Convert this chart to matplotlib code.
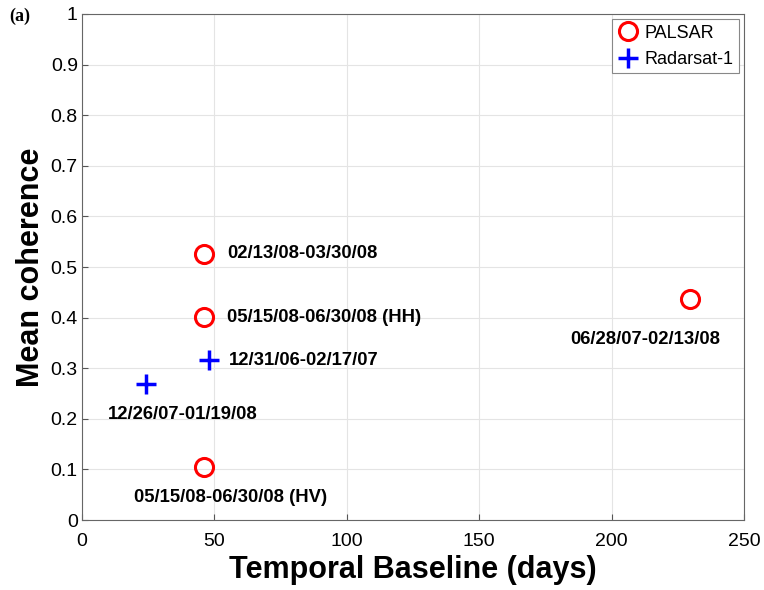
import matplotlib
matplotlib.use("Agg")
import matplotlib.pyplot as plt

plt.rcParams['font.family'] = ['Liberation Sans', 'DejaVu Sans']

# PALSAR pairs
palsar_days = [46, 46, 46, 229.5]
palsar_coh = [0.526, 0.401, 0.105, 0.437]
palsar_labels = ["02/13/08-03/30/08", "05/15/08-06/30/08 (HH)",
                 "05/15/08-06/30/08 (HV)", "06/28/07-02/13/08"]

# Radarsat-1 pairs
rsat_days = [48, 24]
rsat_coh = [0.316, 0.269]
rsat_labels = ["12/31/06-02/17/07", "12/26/07-01/19/08"]

xticks = [0, 50, 100, 150, 200, 250]
yticks = [0, 0.1, 0.2, 0.3, 0.4, 0.5, 0.6, 0.7, 0.8, 0.9, 1]

fig = plt.figure(figsize=(7.64, 5.9), dpi=100)
ax = fig.add_axes([0.1073, 0.1186, 0.8665, 0.8577])

ax.plot(palsar_days, palsar_coh, 'o', mfc='none', mec='red', mew=2.2, ms=13,
        label='PALSAR', linestyle='none')
ax.plot(rsat_days, rsat_coh, '+', color='blue', mew=2.5, ms=14,
        label='Radarsat-1', linestyle='none')

# label placement: offset in points, alignment
p_offsets = [((17, 0), 'left'), ((17, 0), 'left'), ((19.5, -22), 'center'), ((-32, -29), 'center')]
for x, y, t, (off, ha) in zip(palsar_days, palsar_coh, palsar_labels, p_offsets):
    ax.annotate(t, (x, y), xytext=off, textcoords='offset points', ha=ha,
                va='center', fontsize=13.3, fontweight='bold')

r_offsets = [((14, 0), 'left'), ((27, -22), 'center')]
for x, y, t, (off, ha) in zip(rsat_days, rsat_coh, rsat_labels, r_offsets):
    ax.annotate(t, (x, y), xytext=off, textcoords='offset points', ha=ha,
                va='center', fontsize=13.3, fontweight='bold')

ax.set_xlim(0, 250)
ax.set_ylim(0, 1)
ax.set_xticks(xticks)
ax.set_yticks(yticks)
ax.set_yticklabels([f"{v:g}" for v in yticks])
ax.tick_params(labelsize=14, length=4, color='#555555', direction='in')
ax.tick_params(axis='x', pad=9)
ax.tick_params(axis='y', pad=3)
ax.grid(True, color='#e4e4e4', linewidth=0.8)
ax.set_axisbelow(True)
for s in ax.spines.values():
    s.set_color('#666666')

ax.set_xlabel('Temporal Baseline (days)', fontsize=22, fontweight='bold', labelpad=4)
ax.set_ylabel('Mean coherence', fontsize=22, fontweight='bold', labelpad=3)

leg = ax.legend(loc='upper right', fontsize=13, fancybox=False, framealpha=1,
                edgecolor='#888888', handletextpad=0.3, borderpad=0.3,
                handlelength=1.2, borderaxespad=0.3)
leg.get_frame().set_linewidth(0.8)

fig.text(0.012, 0.965, '(a)', fontsize=13, fontweight='bold',
         family=['Liberation Serif', 'DejaVu Serif'])

fig.savefig('out.png', dpi=100)
